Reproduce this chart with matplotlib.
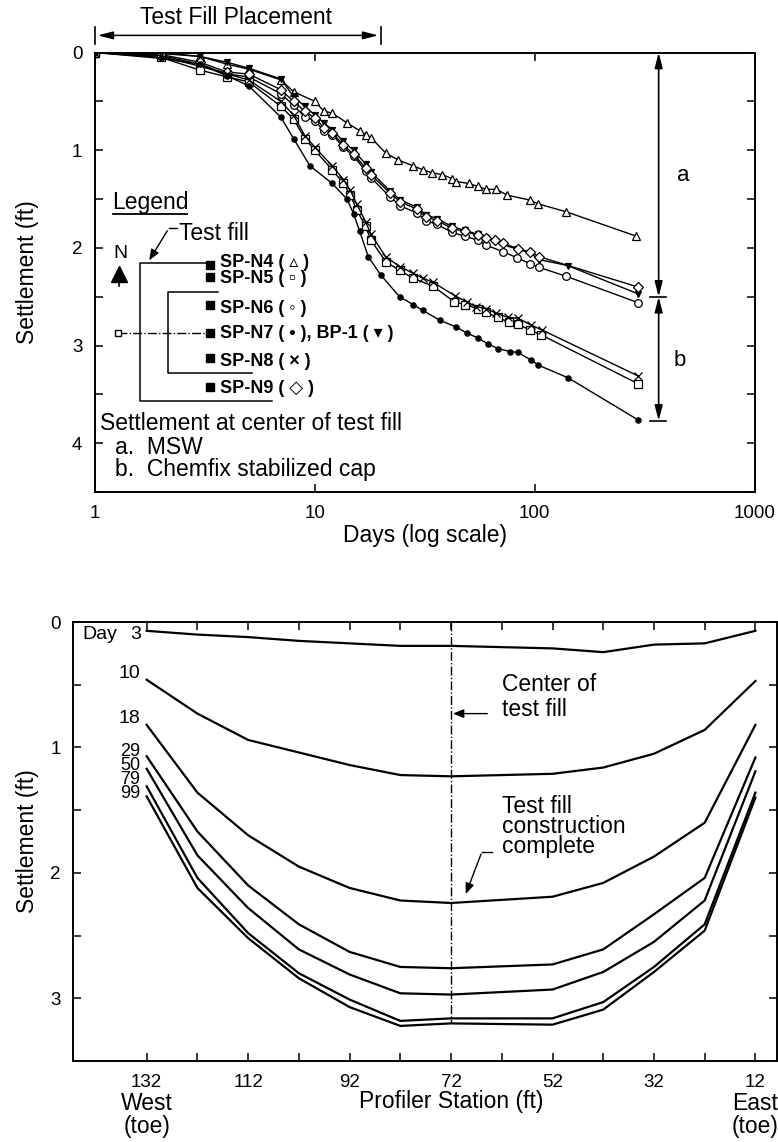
import matplotlib
matplotlib.use("Agg")
import matplotlib.pyplot as plt
from matplotlib.ticker import MultipleLocator, FixedLocator, NullLocator, FixedFormatter
from matplotlib.transforms import blended_transform_factory

plt.rcParams["font.family"] = ["Liberation Sans", "DejaVu Sans"]
plt.rcParams["font.size"] = 13

# ---- top chart: settlement vs time at each settlement plate ----
n4_days = [1, 2, 3, 4, 5, 7, 8, 10, 11, 12, 14, 16, 17, 18, 21, 24, 28, 31, 34, 38, 42, 44, 50, 55, 60, 67, 75, 95, 104, 139, 290]
n4_set = [0, 0.01, 0.04, 0.12, 0.17, 0.28, 0.40, 0.50, 0.60, 0.62, 0.72, 0.80, 0.84, 0.87, 1.03, 1.10, 1.16, 1.20, 1.23, 1.25, 1.29, 1.32, 1.34, 1.37, 1.40, 1.40, 1.46, 1.51, 1.55, 1.63, 1.88]

bp1_days = [1, 2, 3, 4, 5, 7, 8, 9, 10, 11, 12, 13.5, 15, 17, 18, 22, 24.5, 29, 32, 36, 42, 48, 55, 60, 72, 83, 95, 105, 141, 295]
bp1_set = [0, 0.0, 0.04, 0.10, 0.16, 0.27, 0.45, 0.55, 0.64, 0.72, 0.79, 0.91, 1.00, 1.14, 1.22, 1.42, 1.51, 1.58, 1.66, 1.70, 1.78, 1.82, 1.86, 1.90, 1.97, 2.01, 2.05, 2.12, 2.18, 2.47]

n6_days = [1, 2, 3, 4, 5, 7, 8, 9, 10, 11, 12, 13.5, 15, 17, 18, 22, 24.5, 29, 32, 36, 42, 48, 55, 60, 72, 83, 95, 105, 139, 295]
n6_set = [0, 0.04, 0.14, 0.22, 0.25, 0.42, 0.54, 0.66, 0.70, 0.80, 0.84, 0.97, 1.06, 1.21, 1.28, 1.48, 1.57, 1.64, 1.72, 1.76, 1.84, 1.88, 1.92, 1.97, 2.04, 2.10, 2.16, 2.20, 2.29, 2.56]

n9_days = [1, 2, 3, 4, 5, 7, 8, 9, 10, 11, 12, 13.5, 15, 17, 18, 22, 24.5, 29, 32, 36, 42, 48, 55, 60, 66, 72, 84, 95, 105, 295]
n9_set = [0, 0.02, 0.10, 0.20, 0.22, 0.38, 0.50, 0.60, 0.67, 0.77, 0.82, 0.95, 1.04, 1.18, 1.25, 1.44, 1.53, 1.60, 1.68, 1.72, 1.80, 1.83, 1.87, 1.90, 1.92, 1.95, 2.01, 2.04, 2.09, 2.40]

n5_days = [1, 2, 3, 4, 5, 7, 8, 9, 10, 12, 13.5, 14.5, 15.5, 17, 18, 21, 24.3, 28, 34.4, 43, 48, 55, 60, 68, 76, 84, 95, 107, 295]
n5_set = [0, 0.05, 0.18, 0.25, 0.30, 0.55, 0.68, 0.88, 1.00, 1.20, 1.34, 1.46, 1.61, 1.78, 1.92, 2.14, 2.23, 2.31, 2.39, 2.55, 2.58, 2.62, 2.66, 2.71, 2.76, 2.78, 2.84, 2.89, 3.39]

n8_days = [1, 2, 3, 4, 5, 7, 8, 9, 10, 12, 13.5, 14.5, 15.5, 17, 18, 21, 24.3, 28, 31, 34.4, 43.4, 49, 54, 60, 67, 75.5, 84, 96.5, 108, 295]
n8_set = [0, 0.03, 0.12, 0.22, 0.28, 0.50, 0.64, 0.85, 0.97, 1.16, 1.30, 1.41, 1.55, 1.73, 1.86, 2.09, 2.19, 2.26, 2.31, 2.35, 2.49, 2.55, 2.60, 2.62, 2.67, 2.71, 2.72, 2.79, 2.84, 3.31]

n7_days = [1, 2, 3, 4, 5, 7, 8, 9.5, 12, 14, 15, 16, 17.5, 20, 24.3, 28, 31, 37, 44, 49, 55, 61, 68, 77, 84, 96.5, 104, 142, 295]
n7_set = [0, 0.06, 0.12, 0.24, 0.34, 0.66, 0.88, 1.16, 1.34, 1.50, 1.65, 1.83, 2.09, 2.28, 2.50, 2.58, 2.64, 2.74, 2.81, 2.87, 2.92, 2.98, 3.03, 3.06, 3.07, 3.15, 3.20, 3.33, 3.76]

plates = ["SP-N4 ( \u25b5 )", "SP-N5 ( \u25ab )", "SP-N6 ( \u25e6 )", "SP-N7 ( \u2022 ), BP-1 ( \u25be )", "SP-N8 ( \u00d7 )", "SP-N9 ( \u25c7 )"]

# ---- bottom chart: settlement profiles across the fill ----
stations = [132, 122, 112, 102, 92, 82, 72, 52, 42, 32, 22, 12]
profile_days = ["3", "10", "18", "29", "50", "79", "99"]
profiles = [
    [0.07, 0.10, 0.12, 0.15, 0.17, 0.19, 0.19, 0.21, 0.24, 0.18, 0.17, 0.07],
    [0.46, 0.73, 0.94, 1.04, 1.14, 1.22, 1.23, 1.21, 1.16, 1.05, 0.86, 0.47],
    [0.82, 1.36, 1.70, 1.95, 2.12, 2.22, 2.24, 2.19, 2.08, 1.87, 1.60, 0.82],
    [1.07, 1.67, 2.10, 2.41, 2.63, 2.75, 2.76, 2.73, 2.61, 2.33, 2.04, 1.08],
    [1.17, 1.86, 2.28, 2.61, 2.81, 2.96, 2.97, 2.93, 2.79, 2.55, 2.22, 1.19],
    [1.31, 2.04, 2.48, 2.80, 3.01, 3.18, 3.16, 3.16, 3.03, 2.75, 2.41, 1.36],
    [1.39, 2.12, 2.52, 2.84, 3.07, 3.22, 3.20, 3.21, 3.09, 2.79, 2.46, 1.40],
]

fig = plt.figure(figsize=(7.78, 11.42), dpi=100)
ax = fig.add_axes([0.122, 0.569, 0.848, 0.385])
ax2 = fig.add_axes([0.094, 0.0709, 0.905, 0.3844])

big = 16.5
series = [
    (n4_days, n4_set, "^", "white", 5.5),
    (bp1_days, bp1_set, "v", "black", 4),
    (n6_days, n6_set, "o", "white", 5.5),
    (n9_days, n9_set, "D", "white", 4.8),
    (n5_days, n5_set, "s", "white", 5.5),
    (n8_days, n8_set, "x", "black", 5.5),
    (n7_days, n7_set, "o", "black", 3.8),
]
for d, s, m, fc, size in series:
    ax.plot(d, s, color="black", lw=1.0, marker=m, ms=size, mfc=fc, mec="black", mew=0.9)

ax.set_xscale("log")
ax.set_xlim(1, 1000)
ax.set_ylim(4.5, 0)
ax.xaxis.set_major_locator(FixedLocator([1, 10, 100, 1000]))
ax.xaxis.set_major_formatter(FixedFormatter(["1", "10", "100", "1000"]))
ax.xaxis.set_minor_locator(NullLocator())
ax.yaxis.set_major_locator(FixedLocator([0, 1, 2, 3, 4]))
ax.yaxis.set_minor_locator(MultipleLocator(0.5))
ax.tick_params(which="both", direction="in", top=True, right=True, length=6, width=1.1, labelsize=13.5)
ax.tick_params(axis="x", pad=9)
ax.tick_params(axis="y", pad=9)
for sp in ax.spines.values():
    sp.set_linewidth(1.4)
ax.set_ylabel("Settlement (ft)", fontsize=big)
ax.yaxis.set_label_coords(-0.085, 0.5)
ax.set_xlabel("Days (log scale)", fontsize=big, labelpad=2)

# test fill placement arrow
ta = ax.transAxes
bl = blended_transform_factory(ax.transData, ax.transAxes)
ax.annotate("", xy=(1, 1.039), xytext=(20, 1.039), xycoords=bl, textcoords=bl,
            arrowprops=dict(arrowstyle="<|-|>,head_length=0.7,head_width=0.18", lw=1.1, color="black"),
            annotation_clip=False)
for xb in (1, 20):
    ax.plot([xb, xb], [1.02, 1.058], transform=bl, color="black", lw=1.2, clip_on=False)
ax.text(4.4, 1.079, "Test Fill Placement", transform=bl, ha="center", va="center", fontsize=big)

# a / b extents
xa = 366
arr = dict(arrowstyle="<|-|>,head_length=0.7,head_width=0.18", lw=1.2, color="black", shrinkA=0, shrinkB=0)
ax.annotate("", xy=(xa, 0.0), xytext=(xa, 2.5), arrowprops=arr)
ax.annotate("", xy=(xa, 2.5), xytext=(xa, 3.77), arrowprops=arr)
for yy in (2.5, 3.77):
    ax.plot([334, 395], [yy, yy], color="black", lw=1.2)
ax.text(471, 1.26, "a", fontsize=16, ha="center", va="center")
ax.text(456, 3.15, "b", fontsize=16, ha="center", va="center")

# legend block
ax.text(0.026, 0.659, "Legend", transform=ta, fontsize=big, va="center")
ax.plot([0.027, 0.140], [0.632, 0.632], transform=ta, color="black", lw=1.3)
ax.text(0.127, 0.588, "Test fill", transform=ta, fontsize=big, va="center")
ax.plot([0.125, 0.112], [0.600, 0.600], transform=ta, color="black", lw=1.0)
ax.annotate("", xy=(0.080, 0.522), xytext=(0.112, 0.600), xycoords=ta, textcoords=ta,
            arrowprops=dict(arrowstyle="-|>,head_length=0.5,head_width=0.2", lw=1.0, color="black"))
ax.text(0.038, 0.543, "N", transform=ta, fontsize=14, ha="center", va="center")
ax.plot([0.036], [0.496], transform=ta, marker="^", ms=11, color="black")
ax.plot([0.036, 0.036], [0.496, 0.470], transform=ta, color="black", lw=1.2)
# fill outline
ax.plot([0.176, 0.068, 0.068, 0.268], [0.5205, 0.5205, 0.207, 0.207], transform=ta, color="black", lw=1.1)
ax.plot([0.186, 0.111, 0.111, 0.238], [0.4545, 0.4545, 0.270, 0.270], transform=ta, color="black", lw=1.1)
ax.plot([0.035, 0.174], [0.361, 0.361], transform=ta, color="black", lw=1.0, ls="-.")
ax.plot([0.035], [0.361], transform=ta, marker="s", ms=4.5, mfc="white", mec="black", mew=1)

sq_y = [0.516, 0.489, 0.425, 0.361, 0.305, 0.239]
lab_y = [0.523, 0.486, 0.417, 0.361, 0.298, 0.236]
for name, sy, ly in zip(plates, sq_y, lab_y):
    ax.plot([0.174], [sy], transform=ta, marker="s", ms=6, color="black")
    ax.text(0.189, ly, name, transform=ta, fontsize=13, fontweight="bold", va="center")

ax.text(0.008, 0.157, "Settlement at center of test fill", transform=ta, fontsize=big, va="center")
ax.text(0.030, 0.102, "a.  MSW", transform=ta, fontsize=big, va="center")
ax.text(0.030, 0.052, "b.  Chemfix stabilized cap", transform=ta, fontsize=big, va="center")

# ---- bottom chart ----
for vals in profiles:
    ax2.plot(stations, vals, color="black", lw=1.6)
ax2.plot([72, 72], [0, 3.2], color="black", lw=1.0, ls="-.")
ax2.set_xlim(146.5, 7.7)
ax2.set_ylim(3.5, 0)
ax2.xaxis.set_major_locator(FixedLocator([132, 112, 92, 72, 52, 32, 12]))
ax2.xaxis.set_minor_locator(FixedLocator([122, 102, 82, 62, 42, 22]))
ax2.yaxis.set_major_locator(FixedLocator([0, 1, 2, 3]))
ax2.yaxis.set_minor_locator(MultipleLocator(0.5))
ax2.tick_params(which="both", direction="in", top=True, right=True, length=6, width=1.1, labelsize=13.5)
ax2.tick_params(axis="x", pad=9)
ax2.tick_params(axis="y", pad=9)
for sp in ax2.spines.values():
    sp.set_linewidth(1.4)
ax2.set_ylabel("Settlement (ft)", fontsize=big)
ax2.yaxis.set_label_coords(-0.049, 0.5)

ax2.text(144.7, 0.10, "Day", fontsize=14, ha="left", va="center")
ax2.text(133.2, 0.10, profile_days[0], fontsize=14, ha="right", va="center")
ax2.text(133.2, 0.41, profile_days[1], fontsize=14, ha="right", va="center")
ax2.text(133.2, 0.77, profile_days[2], fontsize=14, ha="right", va="center")
ax2.text(133.2, 1.20, "\n".join(profile_days[3:]), fontsize=13, ha="right", va="center", linespacing=0.78)

ax2.text(62, 0.60, "Center of\ntest fill", fontsize=big, ha="left", va="center", linespacing=1.1)
ax2.annotate("", xy=(72.2, 0.73), xytext=(64.3, 0.73),
             arrowprops=dict(arrowstyle="-|>,head_length=0.5,head_width=0.2", lw=1.0, color="black"))
ax2.text(62, 1.63, "Test fill\nconstruction\ncomplete", fontsize=big, ha="left", va="center", linespacing=0.86)
ax2.plot([64.0, 65.9], [1.83, 1.83], color="black", lw=1.0)
ax2.annotate("", xy=(69.3, 2.19), xytext=(65.9, 1.83),
             arrowprops=dict(arrowstyle="-|>,head_length=0.5,head_width=0.2", lw=1.0, color="black"))

bl2 = blended_transform_factory(ax2.transData, ax2.transAxes)
ax2.text(132, -0.122, "West\n(toe)", transform=bl2, fontsize=big, ha="center", va="center", linespacing=1.0)
ax2.text(72, -0.093, "Profiler Station (ft)", transform=bl2, fontsize=big, ha="center", va="center")
ax2.text(12, -0.122, "East\n(toe)", transform=bl2, fontsize=big, ha="center", va="center", linespacing=1.0)

fig.savefig("out.png", dpi=100)
